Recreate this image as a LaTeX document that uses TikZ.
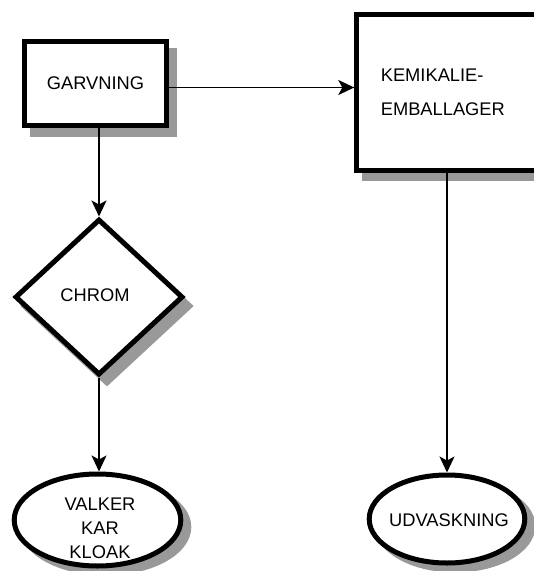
\documentclass[tikz,border=0pt]{standalone}
\usepackage{fontspec}
\setmainfont{Liberation Sans}
\usetikzlibrary{shapes.geometric,arrows.meta}
\definecolor{shadowgray}{RGB}{153,153,153}
\tikzset{
  shadowed/.style={preaction={draw=shadowgray, fill=shadowgray,
      transform canvas={shift={(#1)}}}},
  shadowed/.default={8pt,-8.5pt},
  heavy/.style={draw, line width=5pt, fill=white, inner sep=0pt,
      font=\fontsize{18.3}{34}\selectfont},
  procbox/.style={heavy, rectangle},
  decision/.style={heavy, diamond},
  terminal/.style={heavy, ellipse},
  lbl/.style={inner sep=0pt, align=center, font=\fontsize{18.3}{24}\selectfont},
  link/.style={line width=1.8pt, -{Stealth[length=16pt,width=15pt,inset=4pt]}},
}
\begin{document}
\begin{tikzpicture}[x=1pt,y=-1pt]
  \useasboundingbox (0,0) rectangle (534,571);

  % process boxes
  \node[procbox, shadowed, minimum width=142pt, minimum height=84pt]
    (garv) at (95.5,83.5) {GARVNING};
  \node[procbox, shadowed, minimum width=186pt, minimum height=155.4pt,
        text width=138pt, align=left, inner xsep=24pt]
    (kemi) at (449.8,92.5) {KEMIKALIE-\\EMBALLAGER};

  % decision
  \node[decision, shadowed={8pt,-9pt}, minimum width=168pt, minimum height=156pt]
    (chrom) at (99,297) {};
  \node[lbl] (chromtxt) at (95,295) {CHROM};

  % end points
  \node[terminal, shadowed={8pt,-7pt}, minimum width=166.6pt, minimum height=92pt]
    (valker) at (97.5,520) {};
  \node[lbl] (valkertxt) at (100,528) {VALKER\\KAR\\KLOAK};
  \node[terminal, shadowed={8pt,-7pt}, minimum width=155.6pt, minimum height=88pt]
    (udv) at (447,519) {};
  \node[lbl] (udvtxt) at (449,520) {UDVASKNING};

  % connectors
  \draw[link] ([yshift=-4pt]garv.east) -- ([yshift=-4pt]garv.east -| kemi.west);
  \draw[link] (chrom.north |- garv.south) -- (chrom.north);
  \draw[link] (chrom.south) -- (chrom.south |- valker.north);
  \draw[link] (udv.north |- kemi.south) -- (udv.north);
\end{tikzpicture}
\end{document}
